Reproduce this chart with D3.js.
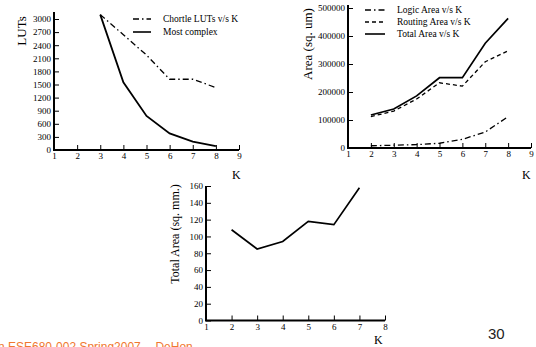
<!DOCTYPE html>
<html>
<head>
<meta charset="utf-8">
<script src="https://cdn.jsdelivr.net/npm/d3@7"></script>
<style>
  body { margin: 0; background: #fff; }
  svg { display: block; }
  .tick text { font-family: "Liberation Serif", serif; font-size: 9px; fill: #000; }
</style>
</head>
<body>
<svg id="chart" width="536" height="347"></svg>
<script>
// panel 1: LUTs vs K
const kLuts = [3, 4, 5, 6, 7, 8];
const chortleLuts = [3100, 2640, 2175, 1620, 1620, 1430];
const mostComplex = [3100, 1550, 780, 380, 190, 90];
const lutTicks = [0, 300, 600, 900, 1200, 1500, 1800, 2100, 2400, 2700, 3000];

// panel 2: area (sq. um) vs K
const kArea = [2, 3, 4, 5, 6, 7, 8];
const logicArea = [8000, 10000, 12000, 17000, 31000, 57000, 112000];
const routingArea = [112000, 132000, 175000, 233000, 221000, 308000, 347000];
const totalArea = [118000, 139000, 186000, 251000, 251000, 374000, 463000];
const areaTicks = [0, 100000, 200000, 300000, 400000, 500000];

// panel 3: total area (sq. mm.) vs K
const kTotal = [2, 3, 4, 5, 6, 7];
const totalMm = [108, 85, 94, 118, 114, 158];
const mmTicks = [0, 20, 40, 60, 80, 100, 120, 140, 160];

const svg = d3.select("#chart");
const serif = "Liberation Serif, serif";

function panel(o) {
    let g = svg.append("g");
    let x = d3.scaleLinear().domain(o.xDomain).range(o.xRange);
    let y = d3.scaleLinear().domain(o.yDomain).range(o.yRange);

    g.append("g")
        .attr("transform", "translate(0," + y(0) + ")")
        .call(d3.axisBottom(x).tickValues(o.xTicks).tickFormat(d3.format("d"))
            .tickSizeInner(-5).tickSizeOuter(0).tickPadding(3))
        .call(a => a.select(".domain").remove());

    g.append("g")
        .attr("transform", "translate(" + x(o.xDomain[0]) + ",0)")
        .call(d3.axisLeft(y).tickValues(o.yTicks).tickFormat(d3.format("d"))
            .tickSizeInner(-5).tickSizeOuter(0).tickPadding(3))
        .call(a => a.select(".domain").remove());

    // heavy axis lines
    g.append("path")
        .attr("d", "M" + x(o.xDomain[0]) + "," + o.axisTop + "V" + y(0) + "H" + x(o.xDomain[1]))
        .attr("fill", "none")
        .attr("stroke", "#000")
        .attr("stroke-width", 2);

    let line = d3.line()
        .x((d, i) => x(o.xs[i]))
        .y(d => y(d));

    o.series.forEach(s => {
        g.append("path")
            .datum(s.values)
            .attr("fill", "none")
            .attr("stroke", "#000")
            .attr("stroke-width", s.width || 1.6)
            .attr("stroke-dasharray", s.dash || null)
            .attr("d", line);
    });

    // y title
    g.append("text")
        .attr("transform", "translate(" + o.yTitle.x + "," + o.yTitle.y + ") rotate(-90)")
        .attr("text-anchor", "middle")
        .attr("font-family", serif)
        .attr("font-size", o.yTitle.size)
        .text(o.yTitle.text);

    // x title
    g.append("text")
        .attr("x", o.kPos[0])
        .attr("y", o.kPos[1])
        .attr("font-family", serif)
        .attr("font-size", 12)
        .text("K");

    // legend
    if (o.legend) {
        o.legend.items.forEach((s, i) => {
            let ly = o.legend.y + i * o.legend.step;
            g.append("line")
                .attr("x1", o.legend.x1).attr("x2", o.legend.x2)
                .attr("y1", ly).attr("y2", ly)
                .attr("stroke", "#000")
                .attr("stroke-width", s.width || 1.4)
                .attr("stroke-dasharray", s.dash || null);
            g.append("text")
                .attr("x", o.legend.tx)
                .attr("y", ly + 3)
                .attr("font-family", serif)
                .attr("font-size", 9.5)
                .text(s.name);
        });
    }
}

const dashDot = "6,3,1.5,3";
const dashed = "4,3";

panel({
    xDomain: [1, 9], xRange: [54, 239],
    yDomain: [0, 3000], yRange: [150, 19],
    axisTop: 12,
    xTicks: d3.range(1, 10), yTicks: lutTicks,
    xs: kLuts,
    series: [
        {values: chortleLuts, dash: dashDot, width: 1.3},
        {values: mostComplex, width: 1.8}
    ],
    yTitle: {text: "LUTs", x: 26, y: 31, size: 13},
    kPos: [232, 179],
    legend: {
        x1: 133, x2: 151, tx: 163, y: 19, step: 13,
        items: [
            {name: "Chortle LUTs v/s K", dash: dashDot},
            {name: "Most complex", width: 1.6}
        ]
    }
});

panel({
    xDomain: [1, 9], xRange: [348, 531],
    yDomain: [0, 500000], yRange: [148, 8],
    axisTop: 5,
    xTicks: d3.range(1, 10), yTicks: areaTicks,
    xs: kArea,
    series: [
        {values: logicArea, dash: dashDot, width: 1.3},
        {values: routingArea, dash: dashed, width: 1.3},
        {values: totalArea, width: 1.7}
    ],
    yTitle: {text: "Area (sq. um)", x: 312, y: 44, size: 13},
    kPos: [522, 179],
    legend: {
        x1: 365, x2: 385, tx: 397, y: 10, step: 12,
        items: [
            {name: "Logic Area v/s K", dash: dashDot},
            {name: "Routing Area v/s K", dash: dashed},
            {name: "Total Area v/s K", width: 1.6}
        ]
    }
});

panel({
    xDomain: [1, 8], xRange: [206, 385],
    yDomain: [0, 160], yRange: [320.5, 186],
    axisTop: 186,
    xTicks: d3.range(1, 9), yTicks: mmTicks,
    xs: kTotal,
    series: [
        {values: totalMm, width: 1.7}
    ],
    yTitle: {text: "Total Area (sq. mm.)", x: 179, y: 234, size: 12},
    kPos: [374, 344]
});

// slide footer (cut off by the bottom edge, as in the slide)
svg.append("text")
    .attr("x", -2)
    .attr("y", 351)
    .attr("font-family", "Liberation Sans, Arial, sans-serif")
    .attr("font-size", 12)
    .attr("fill", "#f07830")
    .text("n ESE680-002 Spring2007 -- DeHon");

svg.append("text")
    .attr("x", 488)
    .attr("y", 339)
    .attr("font-family", "Liberation Sans, Arial, sans-serif")
    .attr("font-size", 15)
    .attr("fill", "#222")
    .text("30");
</script>
</body>
</html>
